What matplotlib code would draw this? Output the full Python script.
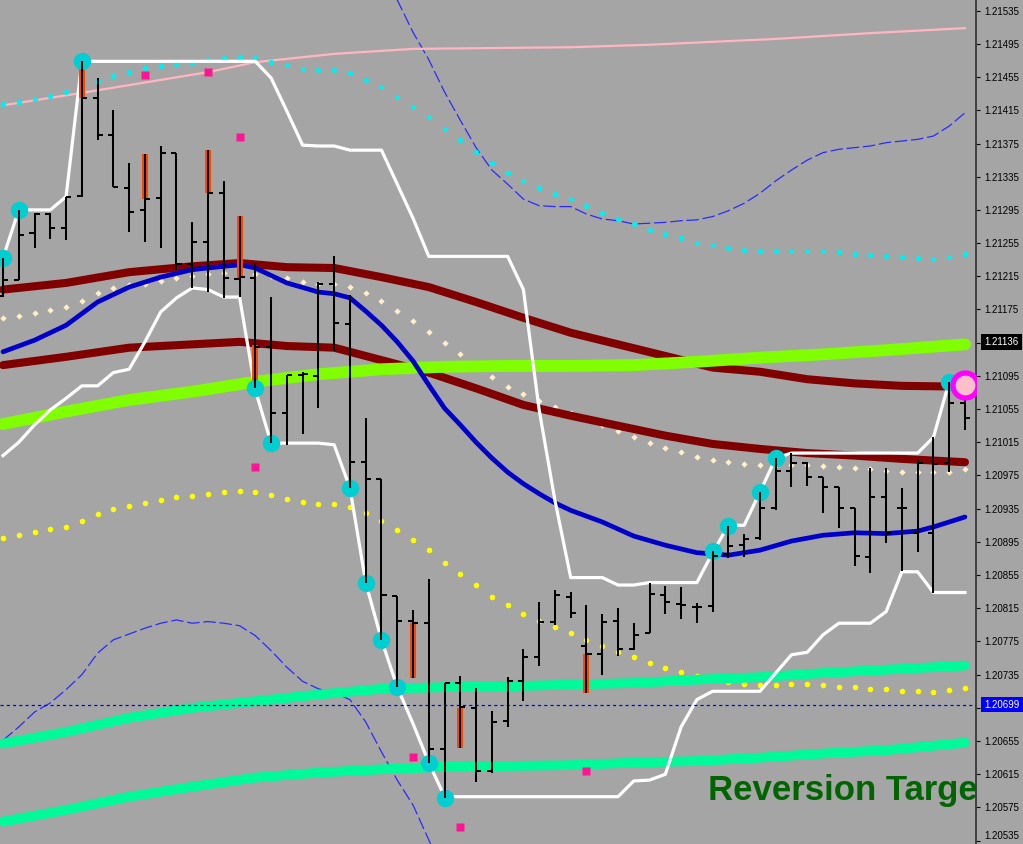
import numpy as np
import matplotlib
matplotlib.use("Agg")
import matplotlib.pyplot as plt

# ---- price bars (one per bar index) ----
high = [1.21237, 1.21295, 1.21291, 1.21291, 1.21311, 1.21474, 1.21454, 1.21415, 1.21352, 1.21362,
        1.21372, 1.21364, 1.21280, 1.21367, 1.21330, 1.21288, 1.21231, 1.21190, 1.21096, 1.21100,
        1.21208, 1.21239, 1.21193, 1.21044, 1.20971, 1.20830, 1.20813, 1.20850, 1.20725, 1.20734,
        1.20719, 1.20691, 1.20732, 1.20766, 1.20823, 1.20837, 1.20835, 1.20819, 1.20808, 1.20815,
        1.20797, 1.20846, 1.20842, 1.20841, 1.20821, 1.20884, 1.20914, 1.20905, 1.20955, 1.20996,
        1.21002, 1.20991, 1.20973, 1.20961, 1.20936, 1.20984, 1.20984, 1.20960, 1.20994, 1.21021,
        1.21088, 1.21086]
low = [1.21190, 1.21211, 1.21249, 1.21260, 1.21259, 1.21311, 1.21379, 1.21323, 1.21268, 1.21256,
       1.21249, 1.21223, 1.21201, 1.21196, 1.21189, 1.21190, 1.21080, 1.21014, 1.21012, 1.21025,
       1.21056, 1.21125, 1.20960, 1.20846, 1.20777, 1.20720, 1.20731, 1.20629, 1.20587, 1.20647,
       1.20606, 1.20617, 1.20672, 1.20703, 1.20746, 1.20795, 1.20803, 1.20713, 1.20735, 1.20758,
       1.20765, 1.20785, 1.20808, 1.20802, 1.20797, 1.20811, 1.20876, 1.20877, 1.20897, 1.20933,
       1.20961, 1.20962, 1.20930, 1.20912, 1.20866, 1.20858, 1.20894, 1.20860, 1.20883, 1.20834,
       1.20979, 1.21030]
opens = [1.21191, 1.21211, 1.21267, 1.21290, 1.21273, 1.21312, 1.21430, 1.21385, 1.21321, 1.21295,
         1.21309, 1.21364, 1.21230, 1.21256, 1.21315, 1.21212, 1.21213, 1.21130, 1.21050, 1.21096,
         1.21095, 1.21206, 1.21158, 1.20991, 1.20971, 1.20830, 1.20800, 1.20797, 1.20645, 1.20725,
         1.20695, 1.20619, 1.20679, 1.20727, 1.20756, 1.20799, 1.20829, 1.20770, 1.20760, 1.20800,
         1.20766, 1.20785, 1.20831, 1.20820, 1.20817, 1.20818, 1.20880, 1.20891, 1.20900, 1.20936,
         1.20980, 1.20990, 1.20973, 1.20961, 1.20936, 1.20877, 1.20949, 1.20936, 1.20906, 1.20906,
         1.20990, 1.21062]
close = [1.21211, 1.21265, 1.21290, 1.21273, 1.21311, 1.21430, 1.21385, 1.21323, 1.21293, 1.21308,
         1.21364, 1.21230, 1.21256, 1.21315, 1.21213, 1.21214, 1.21130, 1.21050, 1.21096, 1.21097,
         1.21206, 1.21159, 1.20991, 1.20971, 1.20831, 1.20800, 1.20797, 1.20645, 1.20725, 1.20696,
         1.20619, 1.20678, 1.20727, 1.20756, 1.20799, 1.20831, 1.20809, 1.20760, 1.20799, 1.20766,
         1.20783, 1.20832, 1.20823, 1.20819, 1.20817, 1.20878, 1.20890, 1.20899, 1.20936, 1.20980,
         1.20990, 1.20973, 1.20961, 1.20936, 1.20878, 1.20949, 1.20906, 1.20936, 1.20990, 1.20989,
         1.21062, 1.21044]

# ---- channel (white step lines) ----
chan_hi = [1.21237, 1.21295, 1.21295, 1.21295, 1.21311, 1.21474, 1.21474, 1.21474, 1.21474, 1.21474,
           1.21474, 1.21474, 1.21474, 1.21474, 1.21474, 1.21474, 1.21474, 1.21454, 1.21414, 1.21373,
           1.21372, 1.21372, 1.21367, 1.21367, 1.21367, 1.21326, 1.21285, 1.21239, 1.21239, 1.21239,
           1.21239, 1.21239, 1.21239, 1.21199, 1.21054, 1.20945, 1.20852, 1.20852, 1.20852, 1.20843,
           1.20843, 1.20846, 1.20846, 1.20846, 1.20846, 1.20882, 1.20915, 1.20915, 1.20955, 1.20996,
           1.21002, 1.21002, 1.21002, 1.21002, 1.21002, 1.21002, 1.21002, 1.21002, 1.21002, 1.21021,
           1.21088, 1.21088]
chan_lo = [1.20999, 1.21015, 1.21036, 1.21054, 1.21068, 1.21083, 1.21083, 1.21099, 1.21103, 1.21136,
           1.21172, 1.21189, 1.21201, 1.21199, 1.21190, 1.21190, 1.21078, 1.21014, 1.21014, 1.21014,
           1.21014, 1.21012, 1.20960, 1.20846, 1.20777, 1.20720, 1.20676, 1.20629, 1.20588, 1.20588,
           1.20588, 1.20588, 1.20588, 1.20588, 1.20588, 1.20588, 1.20588, 1.20588, 1.20588, 1.20588,
           1.20607, 1.20608, 1.20615, 1.20672, 1.20705, 1.20715, 1.20715, 1.20715, 1.20715, 1.20737,
           1.20759, 1.20762, 1.20783, 1.20797, 1.20797, 1.20797, 1.20811, 1.20859, 1.20859, 1.20834,
           1.20834, 1.20834]

# ---- dotted envelopes ----
cyan_dots = [1.21423, 1.21425, 1.21429, 1.21432, 1.21437, 1.21444, 1.21450, 1.21456, 1.21461, 1.21466,
             1.21468, 1.21471, 1.21472, 1.21476, 1.21478, 1.21479, 1.21478, 1.21473, 1.21470, 1.21465,
             1.21464, 1.21464, 1.21460, 1.21452, 1.21443, 1.21431, 1.21419, 1.21407, 1.21393, 1.21379,
             1.21365, 1.21352, 1.21339, 1.21330, 1.21321, 1.21314, 1.21308, 1.21300, 1.21291, 1.21284,
             1.21278, 1.21271, 1.21266, 1.21261, 1.21255, 1.21253, 1.21249, 1.21247, 1.21245, 1.21245,
             1.21245, 1.21245, 1.21245, 1.21244, 1.21242, 1.21241, 1.21239, 1.21238, 1.21237, 1.21236,
             1.21238, 1.21242]
beige_dots = [1.21165, 1.21167, 1.21171, 1.21174, 1.21178, 1.21185, 1.21195, 1.21201, 1.21205, 1.21206,
              1.21209, 1.21213, 1.21215, 1.21218, 1.21219, 1.21219, 1.21218, 1.21215, 1.21213, 1.21208,
              1.21206, 1.21206, 1.21202, 1.21195, 1.21185, 1.21173, 1.21161, 1.21148, 1.21135, 1.21121,
              1.21107, 1.21094, 1.21082, 1.21073, 1.21065, 1.21058, 1.21050, 1.21043, 1.21036, 1.21029,
              1.21021, 1.21014, 1.21008, 1.21003, 1.20997, 1.20994, 1.20991, 1.20989, 1.20988, 1.20988,
              1.20988, 1.20988, 1.20987, 1.20985, 1.20984, 1.20983, 1.20980, 1.20979, 1.20979, 1.20979,
              1.20979, 1.20983]
yellow_dots = [1.20900, 1.20903, 1.20907, 1.20911, 1.20913, 1.20920, 1.20929, 1.20935, 1.20938, 1.20942,
               1.20945, 1.20949, 1.20950, 1.20953, 1.20955, 1.20956, 1.20955, 1.20951, 1.20947, 1.20943,
               1.20941, 1.20941, 1.20937, 1.20930, 1.20920, 1.20909, 1.20897, 1.20885, 1.20870, 1.20856,
               1.20843, 1.20829, 1.20819, 1.20808, 1.20800, 1.20793, 1.20785, 1.20777, 1.20770, 1.20762,
               1.20756, 1.20749, 1.20743, 1.20738, 1.20734, 1.20730, 1.20726, 1.20724, 1.20723, 1.20723,
               1.20724, 1.20724, 1.20723, 1.20720, 1.20720, 1.20718, 1.20718, 1.20715, 1.20715, 1.20714,
               1.20717, 1.20719]

# ---- thin dashed bands ----
dash_up_idx = list(range(24, 62))
dash_up = [1.21590, 1.21548, 1.21509, 1.21476, 1.21437, 1.21403, 1.21370, 1.21343, 1.21326, 1.21308,
           1.21300, 1.21299, 1.21299, 1.21290, 1.21284, 1.21282, 1.21278, 1.21279, 1.21280, 1.21282,
           1.21283, 1.21287, 1.21294, 1.21303, 1.21315, 1.21330, 1.21343, 1.21355, 1.21364, 1.21368,
           1.21370, 1.21372, 1.21376, 1.21378, 1.21380, 1.21384, 1.21396, 1.21412]
dash_dn_idx = list(range(0, 29))
dash_dn = [1.20656, 1.20672, 1.20690, 1.20701, 1.20717, 1.20735, 1.20761, 1.20777, 1.20784, 1.20791,
           1.20797, 1.20801, 1.20797, 1.20799, 1.20797, 1.20794, 1.20782, 1.20764, 1.20744, 1.20727,
           1.20718, 1.20713, 1.20705, 1.20678, 1.20642, 1.20608, 1.20578, 1.20536, 1.20494]

# ---- moving averages (read at sample bars) ----
blue_idx = [0, 2, 4, 6, 8, 10, 12, 14, 15, 16, 18, 20, 21, 22, 23, 24, 25, 26, 27, 28, 29,
            30, 31, 32, 33, 34, 35, 36, 38, 40, 42, 44, 46, 48, 50, 52, 54, 56, 58, 59, 61]
blue_ma = [1.21124, 1.21138, 1.21156, 1.21184, 1.21202, 1.21214, 1.21223, 1.21227, 1.21229, 1.21225,
           1.21207, 1.21196, 1.21194, 1.21189, 1.21173, 1.21156, 1.21136, 1.21113, 1.21084, 1.21056,
           1.21036, 1.21015, 1.20996, 1.20979, 1.20965, 1.20953, 1.20942, 1.20933, 1.20919, 1.20902,
           1.20891, 1.20882, 1.20879, 1.20885, 1.20896, 1.20903, 1.20906, 1.20905, 1.20908, 1.20913,
           1.20925]

maroon_idx = [0, 4, 8, 12, 15, 18, 21, 24, 27, 30, 33, 36, 39, 42, 45, 48, 51, 54, 57, 61]
maroon_hi = [1.21199, 1.21207, 1.21220, 1.21227, 1.21231, 1.21226, 1.21225, 1.21214, 1.21202, 1.21184,
             1.21165, 1.21147, 1.21133, 1.21119, 1.21105, 1.21100, 1.21091, 1.21086, 1.21083, 1.21082]
maroon_lo = [1.21108, 1.21118, 1.21129, 1.21133, 1.21136, 1.21131, 1.21129, 1.21114, 1.21099, 1.21080,
             1.21060, 1.21047, 1.21035, 1.21023, 1.21013, 1.21007, 1.21002, 1.20999, 1.20995, 1.20991]

band_idx = [0, 4, 8, 12, 16, 20, 24, 28, 32, 36, 40, 44, 48, 52, 56, 61]
lime_line = [1.21037, 1.21052, 1.21066, 1.21076, 1.21088, 1.21097, 1.21103, 1.21106,
             1.21107, 1.21107, 1.21108, 1.21112, 1.21117, 1.21121, 1.21126, 1.21133]
spring_hi = [1.20652, 1.20666, 1.20683, 1.20695, 1.20703, 1.20711, 1.20718, 1.20720,
             1.20721, 1.20723, 1.20725, 1.20729, 1.20732, 1.20737, 1.20741, 1.20746]
spring_lo = [1.20558, 1.20572, 1.20588, 1.20600, 1.20611, 1.20617, 1.20621, 1.20624,
             1.20625, 1.20626, 1.20629, 1.20631, 1.20635, 1.20640, 1.20644, 1.20653]

pink_idx = [0, 5, 13, 16, 21, 26, 36, 41, 49, 55, 61]
pink_line = [1.21421, 1.21436, 1.21461, 1.21473, 1.21483, 1.21489, 1.21491, 1.21494,
             1.21501, 1.21508, 1.21514]

# ---- signals ----
wick_idx = [5, 9, 13, 15, 16, 26, 29, 37]
wick_top = [1.21474, 1.21362, 1.21367, 1.21288, 1.21132, 1.20797, 1.20695, 1.20760]
wick_bot = [1.21430, 1.21308, 1.21315, 1.21213, 1.21080, 1.20731, 1.20647, 1.20713]

square_idx = [9, 13, 15, 16, 26, 29, 37]
square_val = [1.21458, 1.21461, 1.21383, 1.20985, 1.20636, 1.20552, 1.20619]

swing_up_idx = [0, 1, 5, 45, 46, 48, 49, 60]
swing_dn_idx = [16, 17, 22, 23, 24, 25, 27, 28]

ring_idx = 61
ring_val = 1.21084

bid_price = 1.20699
lime_price = 1.21136
tick_vals = [round(1.20535 + 0.0004 * k, 5) for k in range(26)]

# ---- figure ----
bg = "#a5a5a5"
fig = plt.figure(figsize=(10.23, 8.44), dpi=100, facecolor=bg)
ax = fig.add_axes([0, 0, 976 / 1023, 1])
ax.set_facecolor(bg)
ax.set_xlim(-0.19, 61.7)
ax.set_ylim(1.205310, 1.215479)

bars = np.arange(len(high))

ax.plot(dash_up_idx, dash_up, color="#2a2aff", lw=0.9, dashes=(10, 3), zorder=1)
ax.plot(dash_dn_idx, dash_dn, color="#2a2aff", lw=0.9, dashes=(10, 3), zorder=1)
ax.plot(pink_idx, pink_line, color="#ffb6c1", lw=1.6, zorder=1)

ax.plot(bars, cyan_dots, "o", ms=3.8, color="#00f0f0", mec="none", zorder=2)
ax.plot(bars, beige_dots, "D", ms=3.2, color="#fff0c8", mec="none", zorder=2)
ax.plot(bars, yellow_dots, "o", ms=4.0, color="#ffff00", mec="none", zorder=2)

ax.plot(band_idx, spring_hi, color="#00fa9a", lw=7, solid_capstyle="round", zorder=3)
ax.plot(band_idx, spring_lo, color="#00fa9a", lw=7, solid_capstyle="round", zorder=3)
ax.plot(maroon_idx, maroon_hi, color="#800000", lw=5.8, solid_capstyle="round", zorder=3)
ax.plot(maroon_idx, maroon_lo, color="#800000", lw=5.8, solid_capstyle="round", zorder=3)
ax.plot(band_idx, lime_line, color="#7fff00", lw=8.5, solid_capstyle="round", zorder=4)
ax.plot(blue_idx, blue_ma, color="#0000c8", lw=3.4, solid_capstyle="round", zorder=5)

ax.plot(bars, chan_hi, color="white", lw=2.3, zorder=6)
ax.plot(bars, chan_lo, color="white", lw=2.3, zorder=6)

ax.axhline(bid_price, color="#0000ff", lw=0.9, dashes=(2.5, 2.5), zorder=6)

ax.vlines(wick_idx, wick_bot, wick_top, color="#ff4500", lw=4.3, zorder=6.5)

hi_arr = np.array(high)
lo_arr = np.array(low)
ax.plot(swing_up_idx, hi_arr[swing_up_idx], "o", ms=12.5, color="#00ced1", mec="none", zorder=7)
ax.plot(swing_dn_idx, lo_arr[swing_dn_idx], "o", ms=12.5, color="#00ced1", mec="none", zorder=7)

ax.vlines(bars, low, high, color="black", lw=1.45, zorder=8)
ax.hlines(opens, bars - 0.32, bars, color="black", lw=1.45, zorder=8)
ax.hlines(close, bars, bars + 0.32, color="black", lw=1.45, zorder=8)

ax.plot(square_idx, square_val, "s", ms=5.8, color="#ff1493", mec="none", zorder=8)

ax.plot(ring_idx, ring_val, "o", ms=18, mfc="#ffc0cb", mec="#ff00ff", mew=3.8, zorder=9)

ax.text(0.7254, 0.0521, "Reversion Target", transform=ax.transAxes,
        fontsize=25, fontweight="bold", color="#006400", family="Liberation Sans",
        ha="left", va="baseline", clip_on=True, zorder=10)

# right price scale
for s in ["top", "left", "bottom"]:
    ax.spines[s].set_visible(False)
ax.spines["right"].set_color("#404040")
ax.spines["right"].set_linewidth(1.4)
ax.set_xticks([])
ax.yaxis.tick_right()
ax.set_yticks(tick_vals)
ax.set_yticklabels(["%.5f" % v for v in tick_vals], family="Liberation Sans")
ax.tick_params(axis="y", direction="out", length=3, width=0.8, colors="black",
               labelsize=7, pad=3)
# lowest label sits just above its tick, as the terminal does at the edge
ax.get_yticklabels()[0].set_verticalalignment("bottom")

# current-value boxes drawn over the scale, in line with the tick labels
ytr = ax.get_yaxis_transform()
lab_x = 1 + (6 / 72 * 100) / 976
ax.text(lab_x, lime_price, "%.5f" % lime_price, transform=ytr, color="white",
        fontsize=7, family="Liberation Sans", ha="left", va="center", clip_on=False,
        bbox=dict(boxstyle="square,pad=0.3", fc="black", ec="none"))
ax.text(lab_x, bid_price, "%.5f" % bid_price, transform=ytr, color="white",
        fontsize=7, family="Liberation Sans", ha="left", va="center", clip_on=False,
        bbox=dict(boxstyle="square,pad=0.3", fc="#0000ff", ec="none"))

fig.savefig("out.png", dpi=100, facecolor=bg)
